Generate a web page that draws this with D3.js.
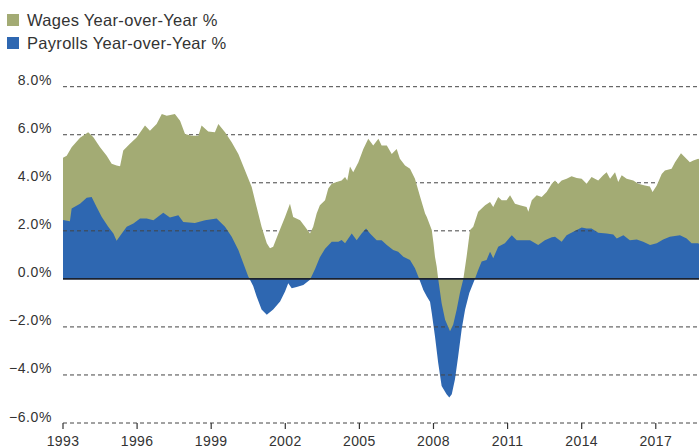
<!DOCTYPE html>
<html>
<head>
<meta charset="utf-8">
<script src="https://cdn.jsdelivr.net/npm/d3@7/dist/d3.min.js"></script>
<style>
  html, body { margin: 0; padding: 0; background: #fff; }
  svg { display: block; }
  text { font-family: "Liberation Sans", Arial, sans-serif; fill: #333; }
</style>
</head>
<body>
<svg id="chart" width="699" height="448"></svg>
<script>
// ---- data (decimal year, % year-over-year) ----
const seriesNames = ["Wages Year-over-Year %", "Payrolls Year-over-Year %"];
const seriesColors = ["#a3ab74", "#2e67b1"];
const yTicks = [-6, -4, -2, 0, 2, 4, 6, 8];
const xTicks = [1993, 1996, 1999, 2002, 2005, 2008, 2011, 2014, 2017];

const wageYears = [1993.00,1993.15,1993.35,1993.69,1994.02,1994.23,1994.50,1994.77,1994.97,1995.17,1995.31,1995.44,1995.71,1995.98,1996.32,1996.52,1996.79,1997.00,1997.20,1997.53,1997.74,1997.94,1998.21,1998.48,1998.61,1998.88,1999.15,1999.29,1999.56,1999.83,2000.10,2000.37,2000.64,2000.84,2001.04,2001.25,2001.38,2001.51,2001.72,2001.99,2002.19,2002.32,2002.60,2002.80,2003.00,2003.13,2003.27,2003.40,2003.61,2003.74,2003.88,2004.08,2004.28,2004.42,2004.51,2004.62,2004.75,2004.96,2005.16,2005.36,2005.56,2005.77,2005.90,2006.11,2006.31,2006.51,2006.64,2006.85,2007.05,2007.25,2007.45,2007.66,2007.73,2007.83,2007.93,2008.00,2008.06,2008.13,2008.19,2008.33,2008.47,2008.67,2008.80,2008.94,2009.07,2009.21,2009.34,2009.48,2009.61,2009.81,2010.09,2010.29,2010.42,2010.62,2010.76,2010.96,2011.10,2011.30,2011.50,2011.77,2011.84,2011.98,2012.18,2012.38,2012.58,2012.79,2012.92,2013.05,2013.19,2013.39,2013.59,2013.80,2014.00,2014.20,2014.40,2014.67,2014.87,2015.01,2015.15,2015.35,2015.48,2015.62,2015.82,2016.09,2016.29,2016.56,2016.76,2016.87,2017.04,2017.24,2017.37,2017.64,2017.78,2018.02,2018.18,2018.38,2018.52,2018.72,2018.75];
const wageValues = [5.04,5.13,5.48,5.87,6.10,5.90,5.48,5.13,4.79,4.72,4.69,5.34,5.62,5.89,6.38,6.17,6.45,6.86,6.79,6.86,6.58,6.03,5.96,5.96,6.38,6.14,6.10,6.45,6.10,5.69,5.20,4.51,3.82,2.99,2.17,1.48,1.27,1.34,1.89,2.58,3.13,2.58,2.44,2.17,1.89,2.17,2.72,3.06,3.27,3.76,3.96,4.03,4.10,4.24,4.10,4.68,4.44,4.86,5.41,5.83,5.55,5.83,5.55,5.55,5.20,5.41,5.00,4.72,4.58,4.17,3.45,2.72,2.58,2.31,2.03,1.48,0.92,0.51,0.00,-1.01,-1.70,-2.18,-1.90,-1.28,-0.59,0.00,0.92,2.03,2.17,2.79,3.06,3.20,2.99,3.41,3.27,3.27,3.48,3.13,3.06,2.99,2.79,3.27,3.48,3.41,3.62,3.96,4.10,3.95,4.10,4.17,4.27,4.20,4.17,3.96,4.24,4.10,4.31,4.44,4.17,4.44,4.03,4.31,4.17,4.10,3.96,3.89,3.85,3.62,3.89,4.37,4.51,4.58,4.86,5.23,5.06,4.86,4.93,5.00,4.98];

const payrollYears = [1993.00,1993.28,1993.35,1993.69,1993.96,1994.16,1994.36,1994.57,1994.83,1995.04,1995.17,1995.38,1995.58,1995.85,1996.12,1996.39,1996.66,1997.06,1997.33,1997.67,1997.87,1998.34,1998.75,1999.22,1999.56,1999.83,2000.10,2000.30,2000.50,2000.57,2000.70,2000.84,2001.04,2001.25,2001.51,2001.79,2001.99,2002.12,2002.26,2002.46,2002.73,2003.00,2003.20,2003.40,2003.61,2003.88,2004.15,2004.28,2004.42,2004.69,2004.89,2005.09,2005.27,2005.43,2005.70,2005.90,2006.11,2006.37,2006.57,2006.78,2007.05,2007.25,2007.42,2007.59,2007.73,2007.86,2007.93,2008.06,2008.19,2008.33,2008.53,2008.64,2008.74,2008.87,2009.00,2009.14,2009.28,2009.45,2009.68,2009.81,2009.95,2010.15,2010.29,2010.42,2010.62,2010.89,2011.17,2011.37,2011.64,2011.91,2012.24,2012.51,2012.79,2012.92,2013.19,2013.39,2013.66,2014.00,2014.20,2014.40,2014.67,2015.01,2015.28,2015.42,2015.69,2015.95,2016.23,2016.49,2016.77,2017.04,2017.30,2017.57,2017.98,2018.25,2018.45,2018.72,2018.75];
const payrollValues = [2.45,2.40,2.93,3.13,3.38,3.41,2.99,2.58,2.17,1.89,1.59,1.89,2.17,2.31,2.51,2.51,2.44,2.75,2.55,2.65,2.37,2.33,2.44,2.51,2.17,1.75,1.20,0.65,0.10,-0.04,-0.30,-0.73,-1.28,-1.49,-1.28,-0.94,-0.53,-0.18,-0.39,-0.34,-0.25,-0.04,0.40,0.90,1.25,1.55,1.55,1.62,1.48,1.89,1.61,1.89,2.10,1.89,1.61,1.61,1.41,1.20,1.13,0.92,0.79,0.44,0.00,-0.46,-0.73,-0.95,-1.42,-2.39,-3.49,-4.46,-4.80,-4.94,-4.80,-4.18,-3.22,-2.11,-1.28,-0.59,0.00,0.37,0.72,0.79,1.13,0.86,1.34,1.48,1.82,1.61,1.61,1.61,1.41,1.61,1.73,1.75,1.55,1.82,1.96,2.14,2.10,2.10,1.92,1.89,1.85,1.68,1.82,1.61,1.64,1.55,1.41,1.48,1.64,1.75,1.82,1.68,1.48,1.48,1.45];

// ---- layout ----
const svg = d3.select("#chart");
const x = d3.scaleLinear().domain([1993, 2018.75]).range([63, 699]);
const y = d3.scaleLinear().domain([-6, 8]).range([423, 86.7]);

const wages = wageYears.map((t, i) => ({ t, v: wageValues[i] }));
const payrolls = payrollYears.map((t, i) => ({ t, v: payrollValues[i] }));

const defs = svg.append("defs");

// grid lines (under everything)
function drawGrid(g) {
  g.selectAll("line")
    .data(yTicks.filter(d => d !== 0))
    .join("line")
    .attr("x1", x.range()[0]).attr("x2", x.range()[1])
    .attr("y1", d => y(d)).attr("y2", d => y(d))
    .attr("stroke", "#444").attr("stroke-width", 1)
    .attr("stroke-dasharray", "4,3");
}
drawGrid(svg.append("g"));

// green, positive part
const areaPos = d3.area().x(d => x(d.t)).y0(y(0)).y1(d => y(Math.max(d.v, 0)));
const areaNeg = d3.area().x(d => x(d.t)).y0(y(0)).y1(d => y(Math.min(d.v, 0)));
const areaFull = d3.area().x(d => x(d.t)).y0(y(0)).y1(d => y(d.v));

svg.append("path").datum(wages).attr("d", areaPos).attr("fill", seriesColors[0]);

// blue payrolls
svg.append("path").datum(payrolls).attr("d", areaFull).attr("fill", seriesColors[1]);

// grid visible on top of the blue area
defs.append("clipPath").attr("id", "blueClip")
  .append("path").datum(payrolls).attr("d", areaFull);
drawGrid(svg.append("g").attr("clip-path", "url(#blueClip)"));

// green, negative part drawn over blue
svg.append("path").datum(wages).attr("d", areaNeg).attr("fill", seriesColors[0]);

// zero line
svg.append("line")
  .attr("x1", x.range()[0]).attr("x2", x.range()[1])
  .attr("y1", y(0)).attr("y2", y(0))
  .attr("stroke", "#1b2230").attr("stroke-width", 1.6);

// y labels
const fmt = d => (d < 0 ? "\u2212" : "") + Math.abs(d).toFixed(1) + "%";
svg.append("g").selectAll("text")
  .data(yTicks).join("text")
  .attr("x", 52).attr("y", d => y(d) - 1.5)
  .attr("text-anchor", "end")
  .style("font-size", "14px").style("letter-spacing", "0.6px")
  .text(fmt);

// x ticks + labels
const xg = svg.append("g");
xg.selectAll("line").data(xTicks).join("line")
  .attr("x1", d => x(d)).attr("x2", d => x(d))
  .attr("y1", 423).attr("y2", 429)
  .attr("stroke", "#333").attr("stroke-width", 1.2);
xg.selectAll("text").data(xTicks).join("text")
  .attr("x", d => x(d)).attr("y", 446)
  .attr("text-anchor", "middle")
  .style("font-size", "14px").style("letter-spacing", "0.4px")
  .text(d => d);

// legend
const lg = svg.append("g");
seriesNames.forEach((name, i) => {
  lg.append("rect").attr("x", 7).attr("y", 14 + i * 23).attr("width", 12).attr("height", 12)
    .attr("fill", seriesColors[i]);
  lg.append("text").attr("x", 27).attr("y", 26 + i * 23)
    .style("font-size", "16.5px").style("letter-spacing", "0.3px")
    .text(name);
});
</script>
</body>
</html>
